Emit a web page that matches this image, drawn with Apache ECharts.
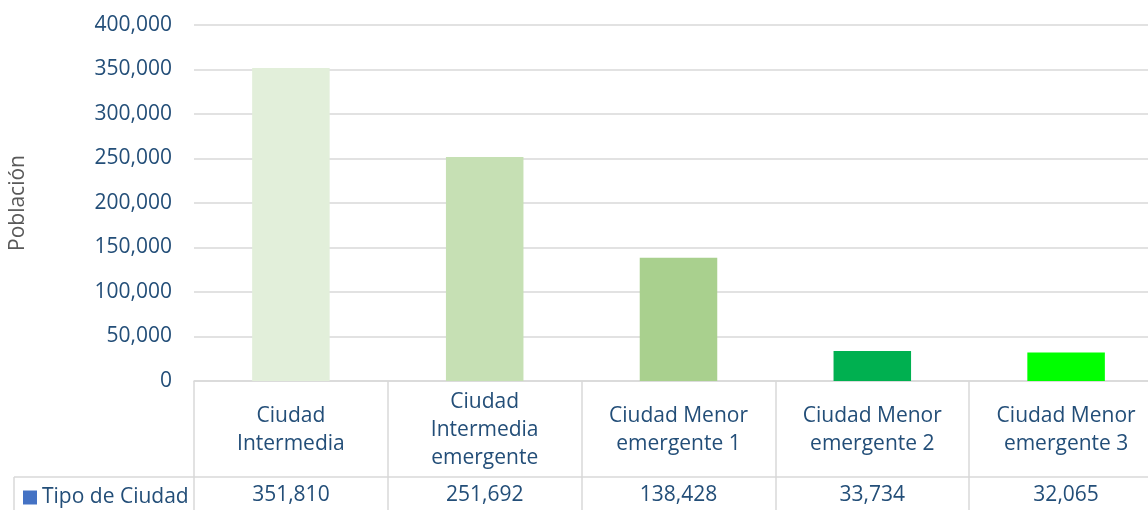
<!DOCTYPE html>
<html>
<head>
<meta charset="utf-8">
<script src="https://cdn.jsdelivr.net/npm/echarts@6/dist/echarts.min.js"></script>
<style>
  html, body { margin: 0; padding: 0; background: #fff; }
  .chart { width: 1148px; height: 510px; }
</style>
</head>
<body>
<div class="chart"></div>
<script>
// datos del gráfico
var categorias = ["Ciudad\nIntermedia", "Ciudad\nIntermedia\nemergente", "Ciudad Menor\nemergente 1", "Ciudad Menor\nemergente 2", "Ciudad Menor\nemergente 3"];
var poblacion = [351810, 251692, 138428, 33734, 32065];
var colores = ["#e2efda", "#c6e0b4", "#a9d08e", "#00b050", "#00ff00"];
var ticksY = [0, 400000, 50000]; // min, max, intervalo
var serieNombre = "Tipo de Ciudad";

var azul = "#234e78";
var gris = "#d9d9d9";
var fuente = "Open Sans";

function miles(v) {
    return String(v).replace(/\B(?=(\d{3})+(?!\d))/g, ",");
}

var myChart = echarts.init(document.querySelector(".chart"));

var option = {
    animation: false,
    textStyle: { fontFamily: fuente },
    // el área del gráfico sigue un poco más allá del borde derecho
    grid: { left: 194, top: 25, width: 969, height: 356, outerBoundsMode: "none" },
    legend: {
        data: [serieNombre],
        left: 18,
        top: 482,
        icon: "rect",
        itemWidth: 14,
        itemHeight: 14,
        itemGap: 0,
        textStyle: { fontSize: 21, color: azul, fontFamily: fuente }
    },
    xAxis: [{
        type: "category",
        data: categorias,
        axisLine: { lineStyle: { color: gris, width: 1.5 } },
        axisTick: { show: true, length: 130, lineStyle: { color: gris, width: 1.5 } },
        axisLabel: {
            interval: 0, margin: 49, verticalAlign: "middle",
            fontSize: 21, lineHeight: 28, color: azul, fontFamily: fuente
        }
    }, {
        type: "category",
        data: categorias,
        position: "bottom",
        offset: 96,
        axisLine: { lineStyle: { color: gris, width: 1.5 } },
        axisTick: { show: false },
        axisLabel: {
            interval: 0, margin: 18, verticalAlign: "middle",
            fontSize: 21, color: azul, fontFamily: fuente,
            formatter: function (v, i) { return miles(poblacion[i]); }
        }
    }],
    yAxis: {
        type: "value",
        min: ticksY[0],
        max: ticksY[1],
        interval: ticksY[2],
        name: "Población",
        nameLocation: "middle",
        nameGap: 165,
        nameTextStyle: { fontSize: 21, color: "#595959", fontFamily: fuente },
        axisLine: { show: false },
        axisTick: { show: false },
        axisLabel: {
            margin: 22, fontSize: 21, color: azul, fontFamily: fuente,
            formatter: function (v) { return miles(v); }
        },
        splitLine: { lineStyle: { color: gris, width: 1.5 } }
    },
    series: [{
        name: serieNombre,
        type: "bar",
        barWidth: "40%",
        itemStyle: { color: "#4472c4" },
        data: poblacion.map(function (v, i) {
            return { value: v, itemStyle: { color: colores[i] } };
        })
    }],
    graphic: [{
        type: "line",
        shape: { x1: 14, y1: 477, x2: 194, y2: 477 },
        style: { stroke: gris, lineWidth: 1.5 }
    }, {
        type: "line",
        shape: { x1: 14, y1: 477, x2: 14, y2: 512 },
        style: { stroke: gris, lineWidth: 1.5 }
    }]
};

myChart.setOption(option);
</script>
</body>
</html>
